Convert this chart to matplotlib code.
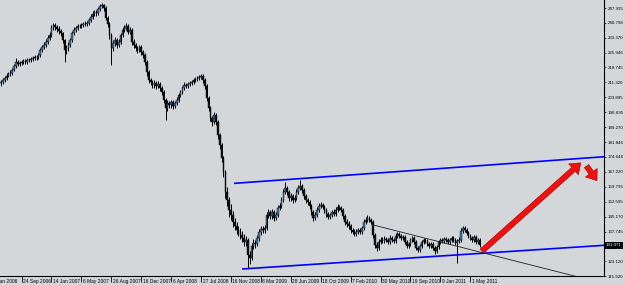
import numpy as np
import pandas as pd
import matplotlib
matplotlib.use('Agg')
import matplotlib.pyplot as plt
from matplotlib.patches import FancyArrowPatch
from matplotlib import font_manager

names = {f.name for f in font_manager.fontManager.ttflist}
small_font = 'Liberation Sans Narrow' if 'Liberation Sans Narrow' in names else 'DejaVu Sans Condensed'
plt.rcParams['font.family'] = [small_font, 'Liberation Sans', 'DejaVu Sans']

# weekly bars, first bar = week of 9 Jul 2006
start_date = '2006-07-09'
first_open = 210.8
closes = [211.5, 212.5, 213.5, 214.5, 215.5, 216.0, 217.5, 219.4, 221.4, 220.4,
          220.9, 221.4, 221.9, 221.4, 222.4, 222.4, 222.9, 223.4, 223.9, 223.9,
          224.8, 227.3, 228.8, 229.8, 231.3, 233.2, 234.7, 238.1, 239.6, 238.6,
          237.7, 236.7, 235.7, 232.2, 227.3, 228.3, 229.8, 232.2, 235.7, 237.2,
          238.1, 239.1, 239.1, 239.6, 240.1, 240.1, 240.6, 242.1, 243.6, 245.0,
          246.0, 245.5, 247.5, 249.0, 249.5, 248.0, 243.1, 240.1, 234.7, 228.3,
          230.8, 232.2, 229.8, 231.3, 234.7, 237.2, 238.1, 239.1, 236.2, 237.2,
          231.3, 229.8, 228.3, 227.3, 228.8, 226.3, 224.8, 221.4, 216.5, 212.5,
          211.5, 210.1, 211.1, 209.6, 210.6, 208.6, 206.6, 202.7, 198.7, 201.2,
          200.2, 201.7, 199.7, 201.2, 202.7, 205.1, 206.6, 208.6, 210.1, 209.6,
          210.6, 211.1, 211.5, 212.5, 213.0, 213.5, 214.0, 214.5, 212.5, 209.6,
          203.7, 198.7, 193.8, 191.8, 195.3, 191.8, 185.4, 180.5, 174.1, 167.2,
          157.4, 153.4, 148.5, 146.0, 142.6, 140.6, 138.6, 137.7, 136.2, 134.7,
          132.7, 133.7, 126.3, 124.9, 130.8, 132.2, 131.7, 134.7, 137.7, 139.1,
          138.6, 139.6, 146.0, 147.5, 145.5, 147.5, 144.6, 146.0, 149.5, 150.5,
          153.4, 157.4, 159.3, 157.4, 154.4, 155.4, 153.4, 154.4, 157.4, 159.3,
          160.3, 158.4, 155.4, 153.4, 152.4, 150.5, 147.5, 144.6, 146.0, 148.5,
          150.5, 151.0, 150.0, 148.5, 146.5, 145.1, 146.0, 147.5, 146.5, 148.5,
          150.0, 149.5, 148.5, 145.5, 142.6, 141.6, 140.6, 138.6, 137.7, 136.7,
          137.7, 138.6, 137.7, 139.6, 142.6, 143.6, 144.6, 143.6, 142.6, 136.2,
          131.3, 129.8, 132.7, 133.7, 133.2, 134.2, 133.7, 132.7, 134.7, 133.7,
          133.2, 135.7, 136.7, 135.7, 134.7, 135.2, 132.7, 130.8, 131.7, 133.7,
          134.7, 132.7, 129.8, 128.8, 130.8, 132.7, 133.7, 133.2, 131.7, 130.8,
          131.7, 129.8, 128.3, 130.3, 132.7, 133.7, 133.2, 134.2, 133.7, 132.7,
          133.7, 134.7, 133.7, 132.2, 133.2, 133.7, 138.2, 139.6, 138.6, 137.2,
          135.7, 134.7, 133.7, 135.2, 132.7, 133.7, 131.071]
highs = [212.6, 213.4, 214.6, 215.8, 216.4, 217.3, 218.6, 220.5, 223.4, 222.3,
         221.9, 222.5, 222.8, 222.9, 223.3, 223.5, 223.9, 224.5, 224.9, 225.0,
         226.0, 228.4, 229.9, 231.2, 232.6, 234.5, 236.0, 239.5, 240.8, 240.5,
         239.7, 238.9, 237.6, 236.4, 232.9, 229.6, 231.0, 233.4, 236.8, 238.4,
         239.3, 240.2, 240.3, 240.7, 241.2, 241.4, 241.7, 243.3, 244.9, 246.3,
         247.1, 247.0, 248.7, 250.1, 250.5, 250.2, 248.8, 244.0, 241.0, 235.6,
         232.0, 233.6, 233.1, 232.6, 235.9, 238.4, 239.4, 240.6, 240.0, 238.5,
         237.9, 232.6, 230.9, 229.5, 230.0, 229.7, 227.4, 225.7, 222.3, 217.4,
         213.6, 212.7, 212.4, 212.2, 211.8, 211.5, 209.6, 207.5, 203.6, 202.5,
         202.4, 202.9, 202.6, 202.4, 203.9, 206.3, 207.8, 209.8, 211.3, 211.2,
         211.7, 212.2, 212.7, 213.6, 214.2, 214.6, 215.2, 215.5, 215.3, 213.4,
         210.4, 204.6, 199.6, 194.9, 196.8, 196.2, 192.7, 186.3, 181.4, 175.0,
         168.1, 159.8, 155.0, 151.2, 148.1, 144.6, 142.7, 140.5, 139.4, 137.9,
         136.4, 135.6, 134.6, 128.4, 132.3, 134.0, 133.8, 136.3, 139.2, 140.8,
         140.5, 141.3, 147.6, 149.1, 148.6, 148.9, 148.4, 147.4, 150.8, 151.9,
         154.8, 158.7, 162.3, 160.4, 158.3, 156.7, 156.5, 155.6, 158.6, 160.6,
         163.3, 161.4, 159.3, 156.4, 154.5, 153.3, 151.4, 148.4, 147.3, 149.8,
         151.8, 152.3, 152.1, 151.0, 149.5, 147.6, 147.2, 148.6, 148.7, 149.7,
         151.2, 151.1, 150.6, 149.4, 146.4, 143.8, 142.8, 141.6, 139.8, 138.9,
         138.9, 139.8, 139.7, 140.8, 143.9, 145.0, 145.9, 145.7, 144.6, 143.4,
         137.1, 132.6, 134.0, 135.0, 134.9, 135.4, 135.2, 134.8, 136.0, 135.8,
         134.8, 136.9, 137.8, 137.7, 136.7, 136.3, 136.1, 133.7, 132.8, 134.8,
         135.8, 135.6, 133.6, 130.9, 131.9, 133.8, 134.8, 134.7, 134.1, 132.7,
         132.8, 132.6, 130.7, 131.4, 133.8, 134.8, 134.7, 135.3, 135.2, 134.7,
         134.8, 135.8, 135.7, 134.6, 134.3, 134.9, 139.8, 140.7, 140.6, 139.7,
         138.3, 136.7, 135.8, 136.3, 136.1, 134.8, 134.6]
lows = [209.6, 210.4, 211.7, 212.6, 213.8, 214.6, 215.1, 216.8, 218.6, 219.2,
        219.5, 220.0, 220.4, 220.5, 220.6, 221.3, 221.6, 222.0, 222.5, 222.6,
        222.9, 224.0, 226.4, 227.9, 228.7, 230.4, 232.1, 233.8, 237.0, 237.4,
        236.2, 235.4, 234.2, 230.8, 221.4, 225.1, 226.9, 228.9, 231.4, 234.6,
        236.2, 237.0, 237.9, 238.2, 238.6, 239.0, 239.1, 239.7, 241.2, 242.6,
        243.9, 244.3, 244.6, 246.4, 247.8, 246.6, 241.9, 238.5, 232.9, 219.9,
        226.8, 229.5, 228.2, 228.6, 230.4, 233.6, 236.0, 237.0, 235.0, 235.1,
        229.9, 228.4, 226.9, 225.8, 226.1, 224.9, 223.2, 219.8, 214.7, 210.8,
        209.9, 208.6, 208.8, 208.2, 208.4, 207.1, 205.0, 201.0, 192.8, 197.2,
        198.7, 198.9, 198.3, 198.5, 200.1, 201.8, 204.0, 205.5, 207.5, 208.4,
        208.5, 209.6, 210.0, 210.4, 211.4, 211.9, 212.4, 212.9, 211.2, 208.2,
        202.0, 197.0, 192.1, 190.0, 190.6, 190.1, 183.6, 178.6, 171.9, 164.8,
        154.6, 150.6, 145.2, 143.5, 140.2, 138.4, 136.5, 135.6, 134.4, 132.8,
        130.6, 130.9, 119.9, 121.8, 123.6, 129.2, 129.9, 130.5, 133.4, 136.2,
        136.9, 137.1, 138.8, 144.6, 143.9, 144.2, 143.0, 143.3, 145.1, 148.3,
        149.4, 152.4, 156.1, 155.8, 152.9, 153.1, 152.0, 152.2, 153.4, 156.2,
        158.1, 157.0, 154.0, 151.9, 150.9, 149.1, 146.0, 143.1, 143.5, 145.1,
        147.4, 149.3, 148.8, 147.2, 145.0, 143.8, 144.0, 145.0, 145.3, 145.6,
        147.4, 148.3, 147.3, 144.1, 141.2, 140.2, 139.3, 137.2, 136.4, 135.4,
        135.5, 136.6, 136.5, 136.6, 138.7, 141.5, 142.4, 142.3, 141.4, 134.8,
        129.6, 128.0, 128.9, 131.6, 132.0, 132.1, 132.5, 131.5, 131.7, 132.6,
        132.0, 132.3, 134.7, 134.6, 133.6, 133.7, 131.5, 129.6, 129.8, 130.8,
        132.7, 131.5, 128.6, 127.6, 127.9, 129.9, 131.7, 132.1, 130.6, 129.7,
        129.8, 128.7, 127.0, 127.4, 129.4, 131.8, 132.1, 132.2, 132.7, 131.6,
        131.7, 132.7, 132.6, 131.0, 122.4, 132.0, 132.9, 137.3, 137.4, 136.0,
        134.6, 133.5, 132.6, 132.7, 131.6, 131.7, 130.3]

date_labels = ['4 Jun 2006', '24 Sep 2006', '14 Jan 2007', '6 May 2007', '26 Aug 2007',
               '16 Dec 2007', '6 Apr 2008', '27 Jul 2008', '16 Nov 2008', '8 Mar 2009',
               '28 Jun 2009', '18 Oct 2009', '7 Feb 2010', '30 May 2010', '19 Sep 2010',
               '9 Jan 2011', '1 May 2011']
price_ticks = [247.995, 240.798, 233.370, 225.946, 218.745, 211.320, 203.895, 196.695,
               189.270, 181.846, 174.646, 167.220, 159.795, 152.595, 145.170, 137.745,
               123.120, 115.920]
current_price = 131.071

# hand-drawn objects (bar index, price)
upper_channel_x = [125.1, 330.0]
upper_channel_y = [161.6, 175.2]
lower_channel_x = [129.4, 330.0]
lower_channel_y = [119.4, 131.5]
trend_x = [198.9, 320.0]
trend_y = [141.1, 112.8]
big_arrow = [(256.1, 127.3), (311.2, 172.6)]
small_arrow = [(312.3, 171.2), (319.6, 161.8)]

bg = '#d3d7d9'
fig = plt.figure(figsize=(6.25, 2.85), dpi=100, facecolor=bg)
ax = fig.add_axes([0, 9 / 285, 604 / 625, 276 / 285], facecolor=bg)

closes = np.array(closes)
opens = np.concatenate([[first_open], closes[:-1]])
x = np.arange(len(closes))
up = closes >= opens

ax.vlines(x, lows, highs, color='black', lw=0.7, zorder=2)
ax.bar(x[up], (closes - opens)[up], bottom=opens[up], width=0.85,
       color='#3f7ab8', edgecolor='black', lw=0.3, zorder=3)
ax.bar(x[~up], (closes - opens)[~up], bottom=opens[~up], width=0.85,
       color='#141414', edgecolor='black', lw=0.3, zorder=3)

ax.plot(upper_channel_x, upper_channel_y, color='#0000ff', lw=1.2, zorder=4)
ax.plot(lower_channel_x, lower_channel_y, color='#0000ff', lw=1.2, zorder=4)
ax.plot(trend_x, trend_y, color='#202020', lw=0.6, zorder=4)

for a, b in [big_arrow, small_arrow]:
    arr = FancyArrowPatch(a, b, arrowstyle='simple,head_length=1.0,head_width=1.5,tail_width=0.55',
                          mutation_scale=7, color='#f01010', ec='#a00000', lw=0.4, zorder=5)
    ax.add_patch(arr)

ax.set_xlim(-0.53, 322.5)
ax.set_ylim(115.98, 251.94)

for s in ['left', 'top']:
    ax.spines[s].set_visible(False)
for s in ['right', 'bottom']:
    ax.spines[s].set_linewidth(0.8)
    ax.spines[s].set_color('black')

# date axis
t0 = pd.Timestamp(start_date)
tick_pos = [(pd.to_datetime(d, format='%d %b %Y') - t0).days / 7 for d in date_labels]
ax.set_xticks([p for p in tick_pos if p >= 0])
ax.tick_params(axis='x', direction='out', length=4.5, width=0.6, labelbottom=False)
xtr = ax.get_xaxis_transform()
for p, lab in zip(tick_pos, date_labels):
    ax.text(p + 0.8, -5.2 / 276, lab, transform=xtr, ha='left', va='center',
            fontsize=3.5, clip_on=False)

# price axis
ax.yaxis.tick_right()
ax.set_yticks(price_ticks)
ax.set_yticklabels([f'{v:.3f}' for v in price_ticks])
ax.tick_params(axis='y', direction='out', length=1.5, width=0.5, pad=1.0, labelsize=3.2)
ax.text(1 + 1.5 / 604, current_price, f'{current_price:.3f}', transform=ax.get_yaxis_transform(),
        ha='left', va='center', fontsize=3.2, color='white', clip_on=False,
        bbox=dict(boxstyle='square,pad=0.35', fc='black', ec='none'))

fig.savefig('out.png', dpi=100, facecolor=bg)
